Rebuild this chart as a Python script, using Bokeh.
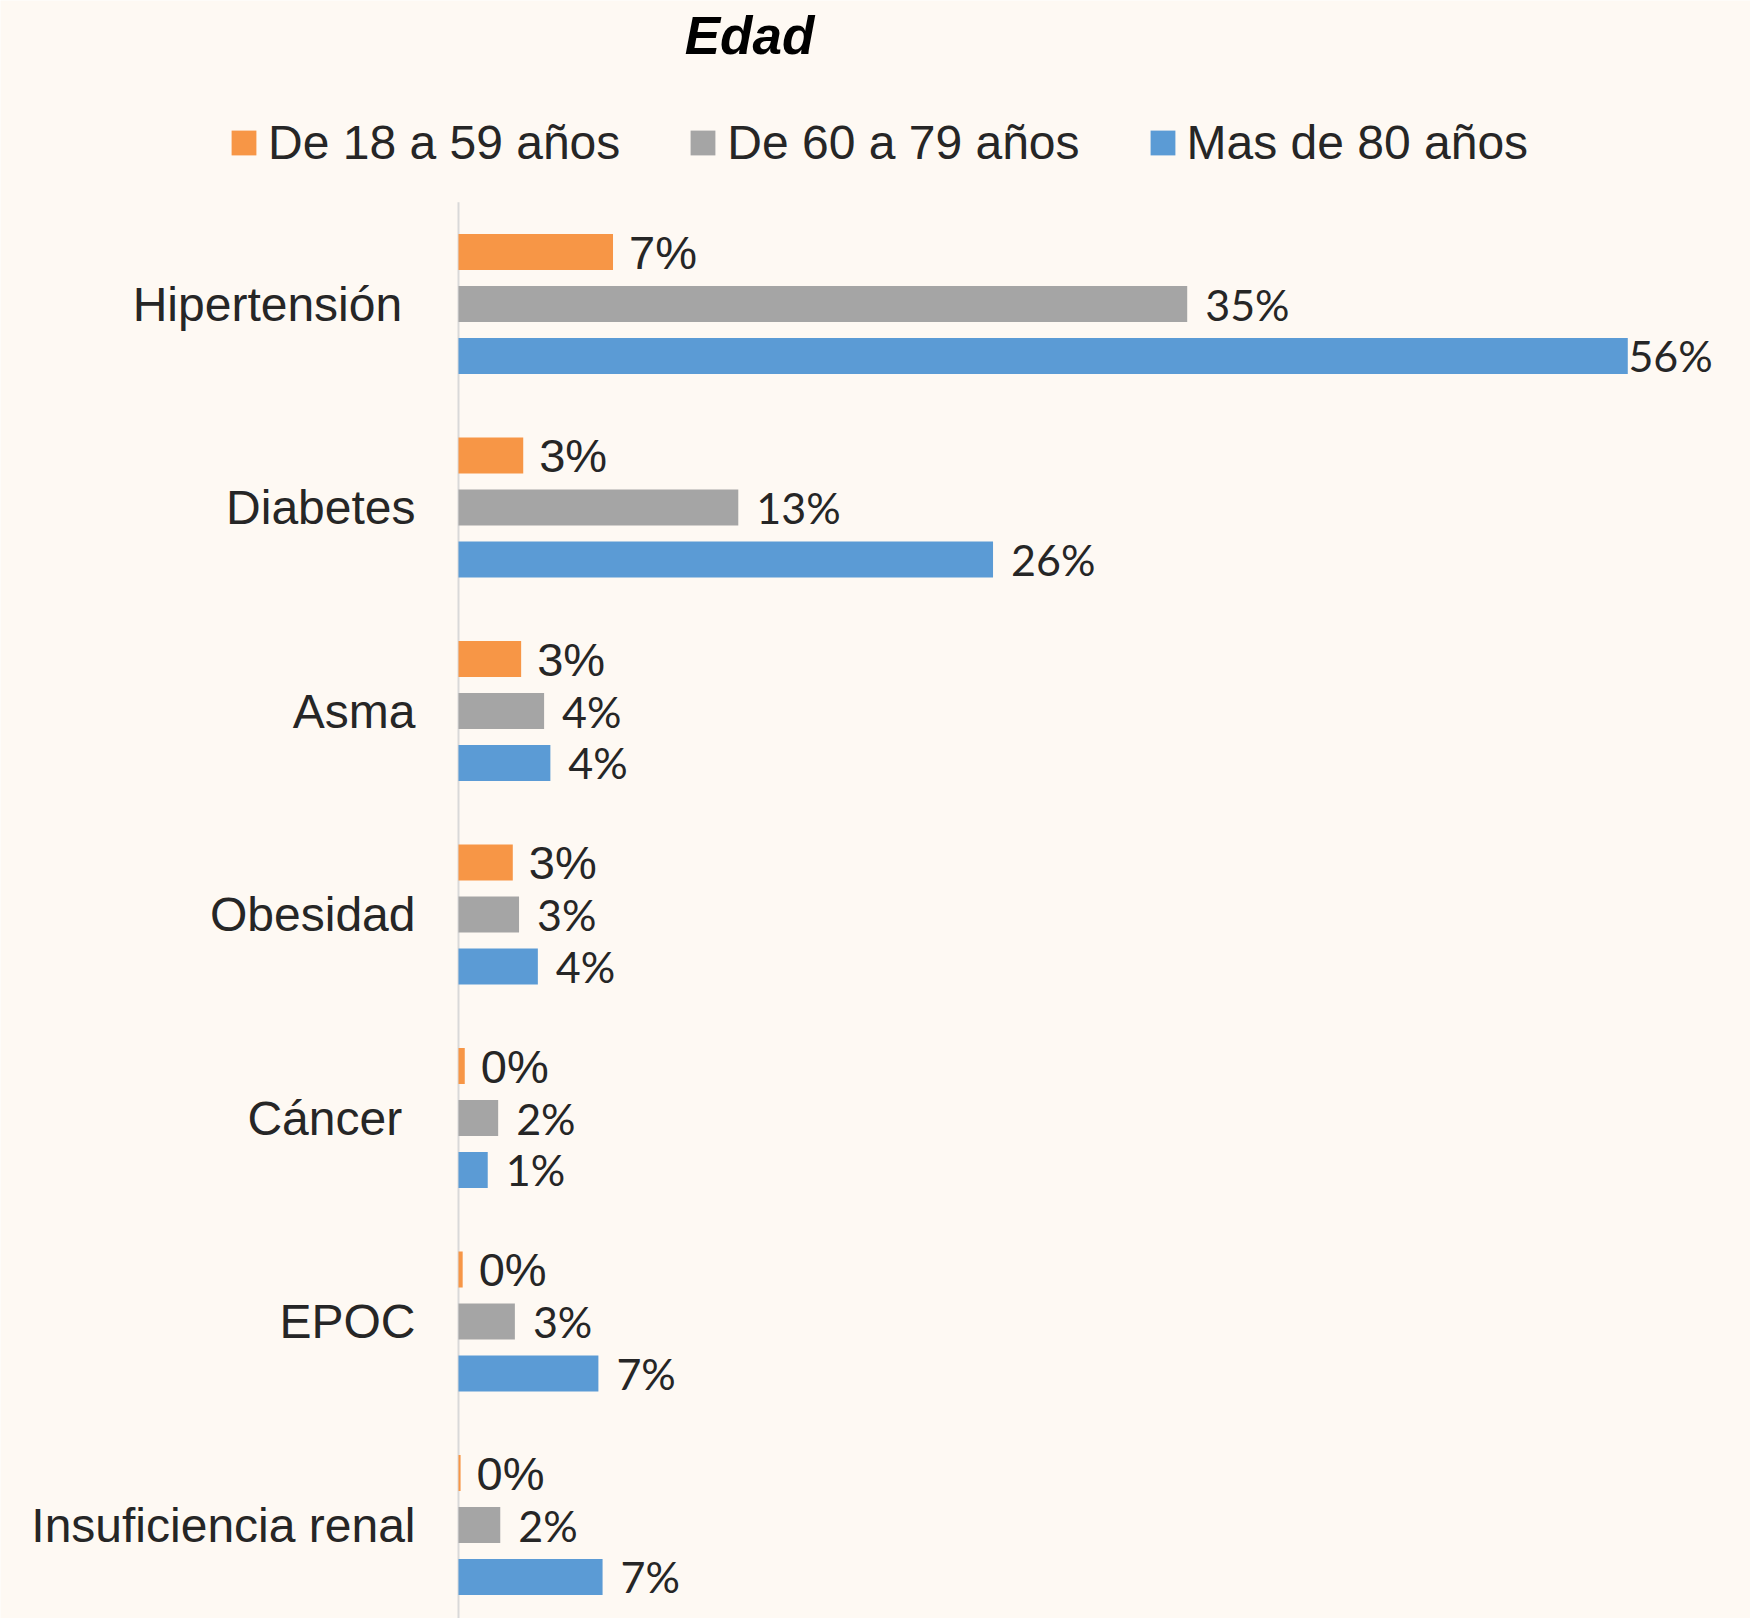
from bokeh.plotting import figure
from bokeh.models import (ColumnDataSource, Range1d, Legend, LegendItem, Label)
from bokeh.transform import dodge
from bokeh.core.properties import value
from bokeh.embed import file_html
from bokeh.resources import INLINE
import numpy as np

# ---------------- data ----------------
title_text = "Edad"
categories = ["Hipertensión\u00a0", "Diabetes", "Asma", "Obesidad", "Cáncer\u00a0", "EPOC",
              "Insuficiencia renal"]
series_names = ["De 18 a 59 años", "De 60 a 79 años", "Mas de 80 años"]
v_18_59 = [7.4, 3.1, 3.0, 2.6, 0.3, 0.2, 0.1]
v_60_79 = [34.9, 13.4, 4.1, 2.9, 1.9, 2.7, 2.0]
v_80 = [56.0, 25.6, 4.4, 3.8, 1.4, 6.7, 6.9]
lab_18_59 = ["7%", "3%", "3%", "3%", "0%", "0%", "0%"]
lab_60_79 = ["35%", "13%", "4%", "3%", "2%", "3%", "2%"]
lab_80 = ["56%", "26%", "4%", "4%", "1%", "7%", "7%"]

# ---------------- styling / layout ----------------
BG = "#FEF9F3"
TXT = "#262626"
COLORS = ["#F79646", "#A5A5A5", "#5B9BD5"]
W, H = 1750, 1618
AXIS_X = 458            # px position of the value axis (0 %)
PX = 20.88              # px per percent
ROW = 203.5             # px per category
ROW0 = 303.5            # px centre of first category
BAR_H = 0.177
OFF = 0.2555

x_range = Range1d(-AXIS_X / PX, (W - AXIS_X) / PX)
y_range = Range1d((H - ROW0) / ROW, -ROW0 / ROW)

p = figure(width=W, height=H, output_backend="svg", toolbar_location=None,
           x_range=x_range, y_range=y_range, min_border=0,
           background_fill_color=BG, border_fill_color=BG, outline_line_color=None)
p.axis.visible = False
p.grid.visible = False

n = len(categories)
idx = list(range(n))
src = ColumnDataSource(dict(idx=idx, a=v_18_59, b=v_60_79, c=v_80,
                            la=lab_18_59, lb=lab_60_79, lc=lab_80, cat=categories,
                            zero=[0] * n))

# value axis line spanning the category bands
p.segment(x0=0, y0=-0.5, x1=0, y1=n - 0.5, line_color="#D9D9D9", line_width=2)

renderers = []
for field, off, col in zip(["a", "b", "c"], [-OFF, 0, OFF], COLORS):
    r = p.hbar(y=dodge("idx", off), left=0, right=field, height=BAR_H,
               fill_color=col, line_color=None, source=src)
    renderers.append(r)

# category labels
p.text(x="zero", y="idx", text="cat", source=src, x_offset=-43,
       text_font=value("Liberation Sans"), text_font_size=value("48px"),
       text_color=TXT, text_align="right", text_baseline="middle")

# data labels
lim = 56.03
for field, lab, off, font, size, gap in [
        ("a", "la", -OFF, "Liberation Sans", "47px", 16),
        ("b", "lb", 0, "Lato", "43px", 18),
        ("c", "lc", OFF, "Lato", "43px", 18)]:
    xs = np.minimum(np.array(src.data[field]) + gap / PX, lim)
    s2 = ColumnDataSource(dict(x=xs, idx=idx, t=src.data[lab]))
    p.text(x="x", y=dodge("idx", off), text="t", source=s2,
           text_font=value(font), text_font_size=value(size), text_color=TXT,
           text_align="left", text_baseline="middle")

# title
p.add_layout(Label(x=749, y=H - 35, x_units="screen", y_units="screen",
                   text=title_text, text_font="Liberation Sans", text_font_size="53px",
                   text_font_style="bold italic", text_color="black",
                   text_align="center", text_baseline="middle"))

# legend
legend = Legend(items=[LegendItem(label=s, renderers=[r]) for s, r in zip(series_names, renderers)],
                orientation="horizontal", location=(228, H - 170),
                glyph_width=31, glyph_height=31, label_standoff=9, spacing=67,
                label_text_font="Liberation Sans", label_text_font_size="48px",
                label_text_color=TXT, padding=0, margin=0,
                border_line_color=None, background_fill_alpha=0)
p.add_layout(legend)

open("out.html", "w").write(file_html(p, INLINE))
